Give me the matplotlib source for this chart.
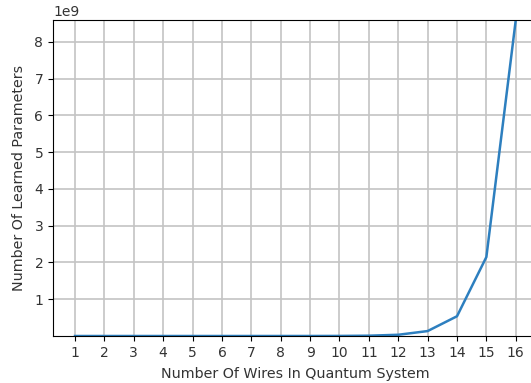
import matplotlib
matplotlib.use("Agg")
import matplotlib.pyplot as plt

wires = [1, 2, 3, 4, 5, 6, 7, 8, 9, 10, 11, 12, 13, 14, 15, 16]
params = [8, 32, 128, 512, 2048, 8192, 32768, 131072, 524288, 2097152,
          8388608, 33554432, 134217728, 536870912, 2147483648, 8589934592]
yticks = [1e9, 2e9, 3e9, 4e9, 5e9, 6e9, 7e9, 8e9]

fig = plt.figure(figsize=(5.31, 3.83), dpi=100)
ax = fig.add_axes([0.0998, 0.1227, 0.913, 0.825])
ax.plot(wires, params, color="#2d7fbf", linewidth=1.8)
ax.set_xticks(wires)
ax.set_yticks(yticks)
ax.set_ylim(0, max(params))
ax.grid(True, color="#c4c4c4", linewidth=1.2)
ax.tick_params(labelcolor="#333333")
ax.set_xlabel("Number Of Wires In Quantum System", color="#333333",
              fontsize=10.3, labelpad=5)
ax.set_ylabel("Number Of Learned Parameters", color="#333333",
              fontsize=10.3, labelpad=6)
fig.savefig("out.png", dpi=100)
